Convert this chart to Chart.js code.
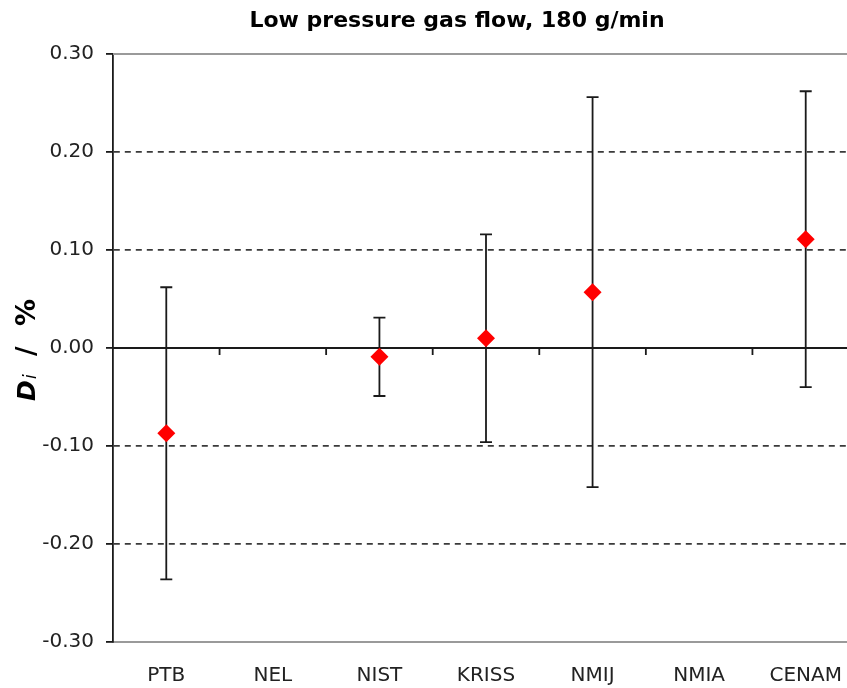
<!DOCTYPE html>
<html><head><meta charset="utf-8">
<script src="https://cdn.jsdelivr.net/npm/chart.js@4.4.1/dist/chart.umd.min.js"></script>
<style>
html,body{margin:0;padding:0;background:#fff;overflow:hidden}
#wrap{width:847px;height:688px;overflow:hidden;position:relative;background:#fff}
canvas{display:block}
</style>
</head><body><div id="wrap"><canvas id="c" width="859" height="688"></canvas></div>
<script>
const chartTitle = 'Low pressure gas flow, 180 g/min';
const categories = ['PTB', 'NEL', 'NIST', 'KRISS', 'NMIJ', 'NMIA', 'CENAM'];
const deviations = [-0.087, null, -0.009, 0.010, 0.057, null, 0.111];
const uncertainties = [0.149, null, 0.040, 0.106, 0.199, null, 0.151];
const yTickValues = [-0.30, -0.20, -0.10, 0.00, 0.10, 0.20, 0.30];
const yAxisLabelParts = ['D', 'i', '/', '%'];

const FONT = "'DejaVu Sans', Verdana, sans-serif";
const isZero = v => Math.abs(v) < 1e-9;
const isEdge = v => Math.abs(Math.abs(v) - 0.3) < 1e-9;

const solidLinesPlugin = {
  id: 'solidLines',
  beforeDatasetsDraw(chart) {
    const ctx = chart.ctx, xs = chart.scales.x, ys = chart.scales.y, a = chart.chartArea;
    ctx.save();
    ctx.setLineDash([]);
    const yt = ys.getPixelForValue(yTickValues[yTickValues.length - 1]);
    ctx.strokeStyle = '#9a9a9a';
    ctx.lineWidth = 2;
    ctx.beginPath(); ctx.moveTo(a.left, yt); ctx.lineTo(a.right, yt); ctx.stroke();
    const y0 = ys.getPixelForValue(0);
    ctx.strokeStyle = '#1a1a1a';
    ctx.lineWidth = 1.8;
    ctx.beginPath(); ctx.moveTo(a.left, y0); ctx.lineTo(a.right, y0);
    for (let i = 0; i < categories.length - 1; i++) {
      const bx = (xs.getPixelForValue(i) + xs.getPixelForValue(i + 1)) / 2;
      ctx.moveTo(bx, y0); ctx.lineTo(bx, y0 + 7);
    }
    ctx.stroke();
    deviations.forEach((v, i) => {
      if (v === null) return;
      const u = uncertainties[i];
      const px = xs.getPixelForValue(i);
      const t = ys.getPixelForValue(v + u), b = ys.getPixelForValue(v - u);
      ctx.beginPath();
      ctx.moveTo(px, t); ctx.lineTo(px, b);
      ctx.moveTo(px - 6, t); ctx.lineTo(px + 6, t);
      ctx.moveTo(px - 6, b); ctx.lineTo(px + 6, b);
      ctx.stroke();
    });
    ctx.restore();
  }
};

const yTitlePlugin = {
  id: 'yTitle',
  afterDraw(chart) {
    const ctx = chart.ctx, a = chart.chartArea;
    const cy = (a.top + a.bottom) / 2;
    ctx.save();
    ctx.translate(35, cy);
    ctx.rotate(-Math.PI / 2);
    ctx.fillStyle = '#000';
    ctx.textBaseline = 'alphabetic';
    ctx.textAlign = 'left';
    ctx.font = "italic bold 25px " + FONT;
    ctx.fillText(yAxisLabelParts[0], -53, 0);
    ctx.font = "italic 17px " + FONT;
    ctx.fillText(yAxisLabelParts[1], -31, 1);
    ctx.font = "bold 26px " + FONT;
    ctx.fillText(yAxisLabelParts[2], -8, 0);
    ctx.font = "bold 27px " + FONT;
    ctx.fillText(yAxisLabelParts[3], 22, 0);
    ctx.restore();
  }
};

const titleShiftPlugin = {
  id: 'titleShift',
  afterLayout(chart) {
    const t = chart.titleBlock;
    if (t) { t.left = 55; t.right = chart.width; t.width = t.right - t.left; }
  }
};

new Chart(document.getElementById('c'), {
  type: 'line',
  data: {
    labels: categories,
    datasets: [{
      data: deviations,
      showLine: false,
      pointStyle: 'rectRot',
      pointRadius: 9,
      pointHoverRadius: 9,
      pointBackgroundColor: '#ff0000',
      pointBorderColor: '#ff0000',
      pointBorderWidth: 0
    }]
  },
  options: {
    responsive: false,
    animation: false,
    devicePixelRatio: 1,
    layout: { padding: 0, autoPadding: false },
    plugins: {
      legend: { display: false },
      tooltip: { enabled: false },
      title: {
        display: true,
        text: chartTitle,
        color: '#000',
        font: { family: FONT, size: 22, weight: 'bold', lineHeight: 1.2 },
        padding: { top: 8, bottom: 19.6 }
      }
    },
    scales: {
      x: {
        type: 'category',
        offset: true,
        grid: { display: false },
        border: { display: true, color: '#9a9a9a', width: 2 },
        ticks: { color: '#222', font: { family: FONT, size: 20 }, padding: 14, maxRotation: 0, autoSkip: false },
        afterFit(s) { s.height = 46; }
      },
      y: {
        min: -0.3,
        max: 0.3,
        afterBuildTicks(s) { s.ticks = yTickValues.map(v => ({ value: v })); },
        afterFit(s) { s.width = 113; },
        border: {
          display: true, color: '#1a1a1a', width: 1.8,
          dash: c => (c && c.tick) ? [6, 5] : []
        },
        grid: {
          drawOnChartArea: true,
          drawTicks: true,
          tickLength: 7,
          tickColor: '#1a1a1a',
          tickWidth: 1.8,
          tickBorderDash: [],
          lineWidth: 1.8,
          color: c => (isZero(c.tick.value) || isEdge(c.tick.value)) ? 'rgba(0,0,0,0)' : '#3a3a3a'
        },
        ticks: {
          color: '#222',
          font: { family: FONT, size: 20 },
          padding: 12,
          callback: v => v.toFixed(2)
        }
      }
    }
  },
  plugins: [solidLinesPlugin, yTitlePlugin, titleShiftPlugin]
});
</script>
</body></html>
